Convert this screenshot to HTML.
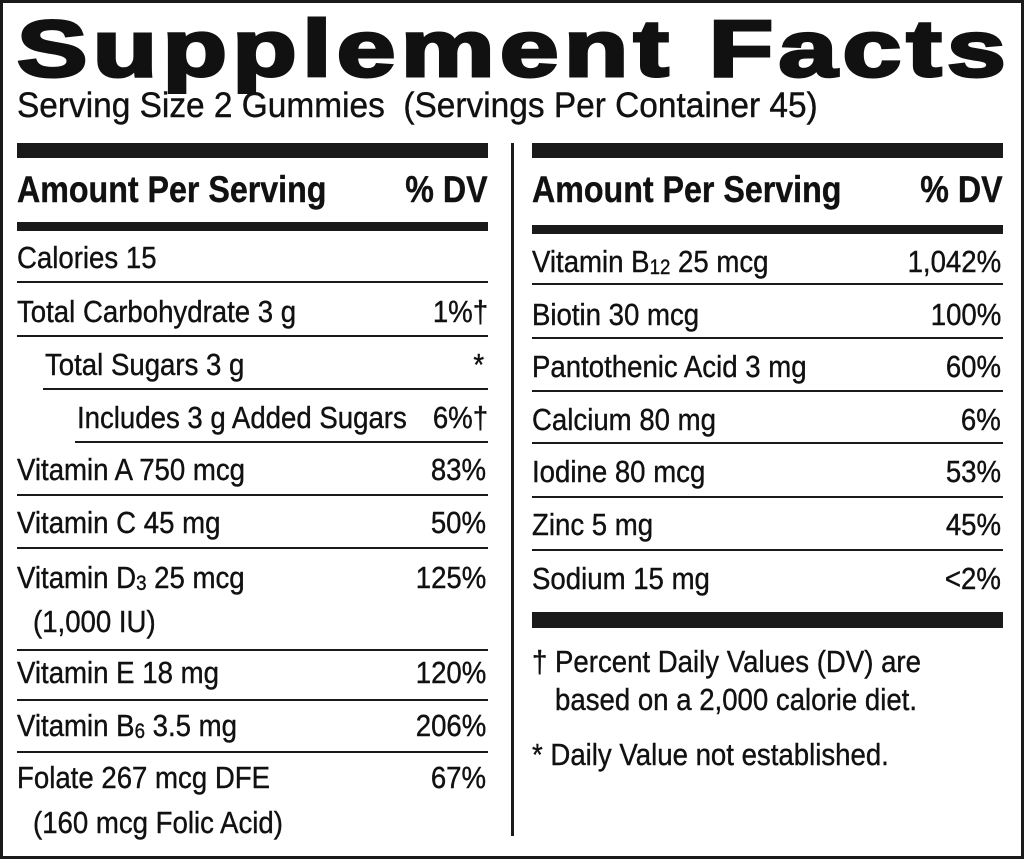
<!DOCTYPE html><html><head><style>
body{margin:0;width:1024px;height:859px;background:#fff;position:relative;overflow:hidden;font-family:"Liberation Sans",sans-serif;color:#111}
.b{position:absolute;background:#1a1a1a}
.t{position:absolute;font-size:31px;line-height:36px;white-space:nowrap;transform:scaleX(0.89);transform-origin:left center;-webkit-text-stroke:0.4px #111}
.r{transform-origin:right center;text-align:right}
.h{font-weight:bold;font-size:37px;transform:scaleX(0.87)}
sub{font-size:21px;vertical-align:-2px}
</style></head><body>
<div class="b" style="left:0;top:0;width:1024px;height:3px"></div>
<div class="b" style="left:0;top:856px;width:1024px;height:3px"></div>
<div class="b" style="left:0;top:0;width:3px;height:859px"></div>
<div class="b" style="left:1021px;top:0;width:3px;height:859px"></div>
<div style="position:absolute;left:17px;top:4px;font-size:80px;font-weight:900;line-height:90px;letter-spacing:4px;transform:scaleX(1.32);transform-origin:left center;white-space:nowrap;-webkit-text-stroke:3px #111">Supplement Facts</div>
<div class="t" style="left:17px;top:88px;font-size:35px;transform:scaleX(0.955)">Serving Size 2 Gummies&nbsp; (Servings Per Container 45)</div>
<div class="b" style="left:511px;top:143px;width:3px;height:693px"></div>
<div class="b" style="left:17px;top:143px;width:471px;height:15px"></div>
<div class="b" style="left:17px;top:222px;width:471px;height:9px"></div>
<div class="b" style="left:17px;top:281px;width:471px;height:2px"></div>
<div class="b" style="left:17px;top:335px;width:471px;height:2px"></div>
<div class="b" style="left:43px;top:388px;width:445px;height:2px"></div>
<div class="b" style="left:75px;top:441px;width:413px;height:2px"></div>
<div class="b" style="left:17px;top:494px;width:471px;height:2px"></div>
<div class="b" style="left:17px;top:547px;width:471px;height:2px"></div>
<div class="b" style="left:17px;top:649px;width:471px;height:2px"></div>
<div class="b" style="left:17px;top:699px;width:471px;height:2px"></div>
<div class="b" style="left:17px;top:751px;width:471px;height:2px"></div>
<div class="t h" style="left:17px;top:172px">Amount Per Serving</div>
<div class="t h r" style="right:536px;top:172px">% DV</div>
<div class="t" style="left:17px;top:240px">Calories 15</div>
<div class="t" style="left:17px;top:294px">Total Carbohydrate 3 g</div><div class="t r" style="right:536px;top:294px">1%†</div>
<div class="t" style="left:45px;top:347px">Total Sugars 3 g</div><div class="t r" style="right:540px;top:347px">*</div>
<div class="t" style="left:77px;top:400px">Includes 3 g Added Sugars</div><div class="t r" style="right:536px;top:400px">6%†</div>
<div class="t" style="left:17px;top:452px">Vitamin A 750 mcg</div><div class="t r" style="right:538px;top:452px">83%</div>
<div class="t" style="left:17px;top:505px">Vitamin C 45 mg</div><div class="t r" style="right:538px;top:505px">50%</div>
<div class="t" style="left:17px;top:560px">Vitamin D<sub>3</sub> 25 mcg</div><div class="t r" style="right:538px;top:560px">125%</div>
<div class="t" style="left:33px;top:604px">(1,000 IU)</div>
<div class="t" style="left:17px;top:655px">Vitamin E 18 mg</div><div class="t r" style="right:538px;top:655px">120%</div>
<div class="t" style="left:17px;top:708px">Vitamin B<sub>6</sub> 3.5 mg</div><div class="t r" style="right:538px;top:708px">206%</div>
<div class="t" style="left:17px;top:760px">Folate 267 mcg DFE</div><div class="t r" style="right:538px;top:760px">67%</div>
<div class="t" style="left:33px;top:805px">(160 mcg Folic Acid)</div>
<div class="b" style="left:532px;top:143px;width:471px;height:15px"></div>
<div class="b" style="left:532px;top:225px;width:471px;height:9px"></div>
<div class="b" style="left:532px;top:283px;width:471px;height:2px"></div>
<div class="b" style="left:532px;top:337px;width:471px;height:2px"></div>
<div class="b" style="left:532px;top:390px;width:471px;height:2px"></div>
<div class="b" style="left:532px;top:442px;width:471px;height:2px"></div>
<div class="b" style="left:532px;top:496px;width:471px;height:2px"></div>
<div class="b" style="left:532px;top:549px;width:471px;height:2px"></div>
<div class="b" style="left:532px;top:612px;width:471px;height:16px"></div>
<div class="t h" style="left:532px;top:172px">Amount Per Serving</div>
<div class="t h r" style="right:21px;top:172px">% DV</div>
<div class="t" style="left:532px;top:244px">Vitamin B<sub>12</sub> 25 mcg</div><div class="t r" style="right:23px;top:244px">1,042%</div>
<div class="t" style="left:532px;top:297px">Biotin 30 mcg</div><div class="t r" style="right:23px;top:297px">100%</div>
<div class="t" style="left:532px;top:349px">Pantothenic Acid 3 mg</div><div class="t r" style="right:23px;top:349px">60%</div>
<div class="t" style="left:532px;top:402px">Calcium 80 mg</div><div class="t r" style="right:23px;top:402px">6%</div>
<div class="t" style="left:532px;top:454px">Iodine 80 mcg</div><div class="t r" style="right:23px;top:454px">53%</div>
<div class="t" style="left:532px;top:507px">Zinc 5 mg</div><div class="t r" style="right:23px;top:507px">45%</div>
<div class="t" style="left:532px;top:561px">Sodium 15 mg</div><div class="t r" style="right:23px;top:561px">&lt;2%</div>
<div class="t" style="left:532px;top:644px">† Percent Daily Values (DV) are</div>
<div class="t" style="left:555px;top:682px">based on a 2,000 calorie diet.</div>
<div class="t" style="left:532px;top:737px">* Daily Value not established.</div>
</body></html>
